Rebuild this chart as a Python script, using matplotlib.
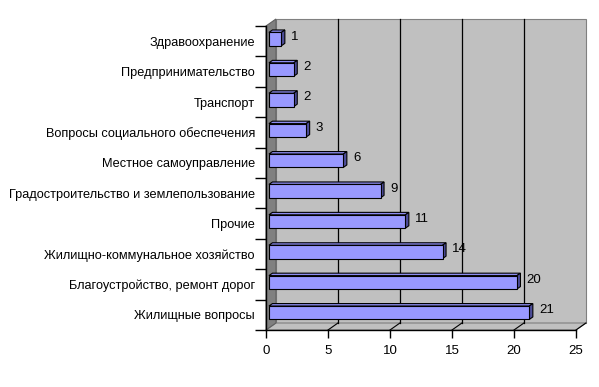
import matplotlib
matplotlib.use("Agg")
import matplotlib.pyplot as plt
from matplotlib.patches import Polygon

# categories from bottom to top
categories = [
    "Жилищные вопросы",
    "Благоустройство, ремонт дорог",
    "Жилищно-коммунальное хозяйство",
    "Прочие",
    "Градостроительство и землепользование",
    "Местное самоуправление",
    "Вопросы социального обеспечения",
    "Транспорт",
    "Предпринимательство",
    "Здравоохранение",
]
values = [21, 20, 14, 11, 9, 6, 3, 2, 2, 1]
x_ticks = [0, 5, 10, 15, 20, 25]

plt.rcParams['font.family'] = ['Liberation Sans', 'DejaVu Sans']

fig = plt.figure(figsize=(5.99, 3.87), dpi=100)
ax = fig.add_axes([266 / 599, 57 / 387, 310 / 599, 304 / 387])
xmax = 25
n = len(categories)
ax.set_xlim(0, xmax)
ax.set_ylim(-0.5, n - 0.5)

# depth projection offset (full depth), in data units
DX, DY = 0.8, 0.23
y0, y1 = -0.5, n - 0.5

def proj(x, y, d):
    return (x + d * DX, y + d * DY)

wall = '#c0c0c0'
side = '#808080'

# back wall
ax.add_patch(Polygon([proj(0, y0, 1), proj(xmax, y0, 1), proj(xmax, y1, 1), proj(0, y1, 1)],
                     closed=True, facecolor=wall, edgecolor='#808080', lw=0.8,
                     clip_on=False, zorder=0))
# floor
ax.add_patch(Polygon([proj(0, y0, 0), proj(xmax, y0, 0), proj(xmax, y0, 1), proj(0, y0, 1)],
                     closed=True, facecolor=wall, edgecolor='#808080', lw=0.8,
                     clip_on=False, zorder=0))
# left wall
ax.add_patch(Polygon([proj(0, y0, 0), proj(0, y1, 0), proj(0, y1, 1), proj(0, y0, 1)],
                     closed=True, facecolor=side, edgecolor='#606060', lw=0.8,
                     clip_on=False, zorder=0.5))

# gridlines on back wall and floor
for t in x_ticks[1:-1]:
    ax.plot(*zip(proj(t, y0, 1), proj(t, y1, 1)), color='black', lw=0.9,
            clip_on=False, zorder=1)
for t in x_ticks[1:]:
    ax.plot(*zip(proj(t, y0, 0), proj(t, y0, 1)), color='black', lw=0.8,
            clip_on=False, zorder=1)

# bars
d0, d1 = 0.3, 0.65
hh = 0.22
front_c = '#9999ff'
top_c = '#8c8cf0'
side_c = '#4d4d99'
for i, v in enumerate(values):
    yb, yt = i - hh, i + hh
    front = [proj(0, yb, d0), proj(v, yb, d0), proj(v, yt, d0), proj(0, yt, d0)]
    top = [proj(0, yt, d0), proj(v, yt, d0), proj(v, yt, d1), proj(0, yt, d1)]
    rside = [proj(v, yb, d0), proj(v, yb, d1), proj(v, yt, d1), proj(v, yt, d0)]
    for poly, c in ((top, top_c), (rside, side_c), (front, front_c)):
        ax.add_patch(Polygon(poly, closed=True, facecolor=c, edgecolor='black',
                             lw=0.8, clip_on=False, zorder=3))
    lx, ly = proj(v, i, d1)
    ax.text(lx + 0.5, ly, str(v), ha='left', va='center', fontsize=9.5,
            color='black', zorder=4)

# axes styling
for s in ('top', 'right'):
    ax.spines[s].set_visible(False)
ax.spines['left'].set_zorder(5)
ax.spines['bottom'].set_zorder(5)
ax.spines['left'].set_linewidth(1)
ax.spines['bottom'].set_linewidth(1)
ax.set_facecolor('none')

ax.set_xticks(x_ticks)
ax.set_xticklabels([str(t) for t in x_ticks], fontsize=9.5)
ax.tick_params(axis='x', direction='out', length=6, width=1, pad=5)

ax.set_yticks(range(n))
ax.set_yticklabels(categories, fontsize=9.2)
ax.set_yticks([i - 0.5 for i in range(n + 1)], minor=True)
ax.tick_params(axis='y', which='major', length=0, pad=8)
ax.tick_params(axis='y', which='minor', direction='out', length=8, width=1)

fig.savefig("out.png", dpi=100)
